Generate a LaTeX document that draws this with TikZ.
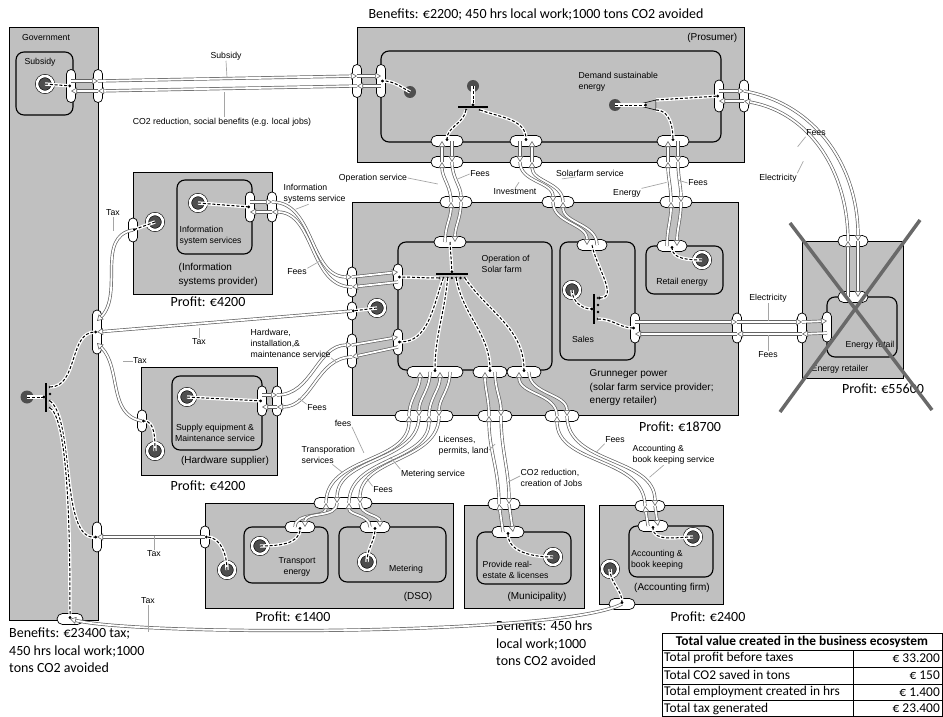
\documentclass[tikz,border=0pt]{standalone}
\usepackage{fontspec}
\setmainfont{Liberation Sans}
\newfontfamily\calfont{Carlito}
\usepackage{tikz}
\usetikzlibrary{arrows.meta,shapes,positioning}
\definecolor{actorgray}{RGB}{192,192,192}
\definecolor{stimgray}{RGB}{78,78,78}
\definecolor{linegray}{RGB}{100,100,100}
\definecolor{leadgray}{RGB}{165,165,165}
\definecolor{crossgray}{RGB}{105,105,105}

\tikzset{
  actorbox/.style={draw, fill=actorgray, line width=0.9pt},
  activity/.style={draw, fill=actorgray, line width=1.1pt, rounded corners=8pt},
  vport/.style={draw, fill=white, line width=0.7pt, rounded corners=4.5pt, inner sep=0pt, minimum width=9pt, minimum height=#1},
  vport/.default=30pt,
  hport/.style={draw, fill=white, line width=0.7pt, rounded corners=5.5pt, inner sep=0pt, minimum height=11pt, minimum width=#1},
  hport/.default=32pt,
  stim/.style={circle, fill=stimgray, inner sep=0pt, minimum size=13pt},
  ringstim/.style={stim, minimum size=16pt, draw=black, line width=0.6pt, double=white, double distance=2.6pt},
  andbar/.style={fill=black, inner sep=0pt, minimum width=#1, minimum height=1.4pt},
  vbar/.style={fill=black, inner sep=0pt, minimum height=#1, minimum width=1.4pt},
  jdot/.style={circle, fill=black, inner sep=0pt, minimum size=2.6pt},
  vx/.style={draw=linegray, line width=0.7pt, double=white, double distance=1.8pt,
    -{Triangle[fill=white, length=6pt, width=7pt, line width=0.6pt]}},
  dep/.style={draw=black, line width=1pt, dash pattern=on 3pt off 1.8pt,
    preaction={draw=white, solid, line width=3.4pt}, -{Circle[length=2.6pt]}},
  lbl/.style={font=\fontsize{8.7}{11}\selectfont, inner sep=0.5pt, align=left},
  albl/.style={font=\fontsize{10}{13.5}\selectfont, inner sep=0.5pt, align=left},
  profit/.style={font=\calfont\fontsize{14}{17.5}\selectfont, inner sep=0pt, align=left},
  tab/.style={font=\calfont\fontsize{13.4}{14}\selectfont, inner sep=0pt},
  leader/.style={draw=leadgray, line width=0.7pt},
}

\begin{document}
\begin{tikzpicture}[x=1pt, y=-1pt]
\useasboundingbox (0,0) rectangle (943,717);

% Actors
\draw[actorbox] (9,27) rectangle (98,620);      % Government
\draw[actorbox] (357,27) rectangle (744,162);   % Prosumer
\draw[actorbox] (133,172) rectangle (272,294);  % Information systems provider
\draw[actorbox] (141,367) rectangle (277,475);  % Hardware supplier
\draw[actorbox] (352,202) rectangle (738,415);  % Grunneger power
\draw[actorbox] (802,241) rectangle (903,378);  % Energy retailer
\draw[actorbox] (205,503) rectangle (453,608);  % DSO
\draw[actorbox] (464,505) rectangle (584,608);  % Municipality
\draw[actorbox] (599,505) rectangle (723,604);  % Accounting firm

% Value activities
\draw[activity] (16,52) rectangle (73,115);
\draw[activity] (381,51) rectangle (721,142);
\draw[activity] (177,180) rectangle (252,254);
\draw[activity] (172,376) rectangle (262,450);
\draw[activity] (398,242) rectangle (552,370);
\draw[activity] (560,242) rectangle (635,360);
\draw[activity] (646,246) rectangle (723,294);
\draw[activity] (827,297) rectangle (897,357);
\draw[activity] (244,527) rectangle (328,583);
\draw[activity] (339,527) rectangle (446,582);
\draw[activity] (477,532) rectangle (571,584);
\draw[activity] (629,526) rectangle (713,577);

% Actor and activity labels
\node[lbl] (govLbl) at (46,38) {Government};
\node[lbl] (subLbl) at (40,62) {Subsidy};
\node[albl, anchor=east] (proLbl) at (738,38) {(Prosumer)};
\node[lbl, anchor=north west] (demLbl) at (578,71) {Demand sustainable\\energy};
\node[albl, anchor=west] (ispLbl) at (178,275) {(Information\\systems provider)};
\node[lbl, anchor=west] (ispaLbl) at (179,236) {Information\\system services};
\node[albl] (hwsLbl) at (225,461) {(Hardware supplier)};
\node[lbl, align=center] (hwsaLbl) at (215,433) {Supply equipment \&\\Maintenance service};
\node[lbl, anchor=west] (opLbl) at (481,264) {Operation of\\Solar farm};
\node[lbl] (saLbl) at (583,339) {Sales};
\node[lbl] (reLbl) at (682,282) {Retail energy};
\node[albl, anchor=west] (gpLbl) at (589,388) {Grunneger power\\(solar farm service provider;\\energy retailer)};
\node[lbl] (erLbl) at (840,369) {Energy retailer};
\node[lbl] (eraLbl) at (870,345) {Energy retail};
\node[lbl, align=center] (trLbl) at (297,567) {Transport\\energy};
\node[lbl] (meLbl) at (406,569) {Metering};
\node[albl] (dsoLbl) at (418,597) {(DSO)};
\node[lbl, anchor=west] (muaLbl) at (482,570) {Provide real-\\estate \& licenses};
\node[albl] (muLbl) at (537,597) {(Municipality)};
\node[lbl, align=center] (afaLbl) at (657,560) {Accounting \&\\book keeping};
\node[albl] (afLbl) at (672,588) {(Accounting firm)};

% Profits and benefits
\node[profit] (topBen) at (536,15) {Benefits: €2200; 450 hrs local work;1000 tons CO2 avoided};
\node[profit] (ispProfit) at (208,302) {Profit: €4200};
\node[profit] (hwsProfit) at (208,486) {Profit: €4200};
\node[profit] (gpProfit) at (680,427) {Profit: €18700};
\node[profit] (erProfit) at (883,389) {Profit: €55600};
\node[profit] (dsoProfit) at (293,617) {Profit: €1400};
\node[profit] (afProfit) at (708,617) {Profit: €2400};
\node[profit, anchor=north west] (govBen) at (9,628) {Benefits: €23400 tax;\\450 hrs local work;1000\\tons CO2 avoided};
\node[profit, anchor=north west] (muBen) at (496,621) {Benefits: 450 hrs\\local work;1000\\tons CO2 avoided};

% Ports
\node[vport=33pt] (govSubIn) at (71,86) {};
\node[vport=33pt] (govSubOut) at (98,86) {};
\node[vport=44pt] (govTaxIn) at (97,332) {};
\node[vport=30pt] (govTaxD) at (97,537) {};
\node[hport=26pt] (govTaxB) at (70,619) {};
\node[vport=33pt] (proLOut) at (357,81) {};
\node[vport=33pt] (proLIn) at (381,81) {};
\node[vport=32pt] (proRIn) at (719,96) {};
\node[vport=32pt] (proROut) at (744,96) {};
\node[hport] (proB1In) at (447,141) {};
\node[hport] (proB2In) at (526,141) {};
\node[hport] (proB3In) at (673,141) {};
\node[hport] (proB1Out) at (447,162) {};
\node[hport] (proB2Out) at (526,162) {};
\node[hport] (proB3Out) at (673,162) {};
\node[vport=30pt] (ispIn) at (250,207) {};
\node[vport=30pt] (ispOut) at (272,207) {};
\node[vport=24pt] (ispTaxP) at (133,230) {};
\node[vport=30pt] (hwsIn) at (262,401) {};
\node[vport=30pt] (hwsOut) at (277,401) {};
\node[vport=22pt] (hwsTaxP) at (142,421) {};
\node[hport] (gTop1) at (456,202) {};
\node[hport] (gTop2) at (558,202) {};
\node[hport] (gTop3) at (676,202) {};
\node[vport=30pt] (gL1) at (352,282) {};
\node[vport=18pt] (gL2) at (352,311) {};
\node[vport=34pt] (gL3) at (352,351) {};
\node[vport=30pt] (gR) at (737,328) {};
\node[hport=58pt] (gB1) at (424,416) {};
\node[hport=34pt] (gB2) at (495,416) {};
\node[hport=34pt] (gB3) at (562,416) {};
\node[hport] (opTop) at (450,242) {};
\node[vport=26pt] (opL1) at (398,277) {};
\node[vport=26pt] (opL2) at (398,342) {};
\node[hport=56pt] (opB1) at (435,372) {};
\node[hport=34pt] (opB2) at (490,372) {};
\node[hport=34pt] (opB3) at (524,372) {};
\node[hport=30pt] (saTop) at (592,245) {};
\node[vport=30pt] (saR) at (635,328) {};
\node[hport=30pt] (reTop) at (672,246) {};
\node[hport=30pt] (erTop) at (853,241) {};
\node[hport=30pt] (erInTop) at (853,297) {};
\node[vport=30pt] (erL) at (802,328) {};
\node[vport=30pt] (erLIn) at (827,327) {};
\node[hport=58pt] (dsoTop) at (343,503) {};
\node[hport=30pt] (trTop) at (300,527) {};
\node[hport=30pt] (meTop) at (375,527) {};
\node[vport=22pt] (dsoTaxP) at (205,537) {};
\node[hport] (muTop) at (504,504) {};
\node[hport] (muaTop) at (508,532) {};
\node[hport=30pt] (afTop) at (650,506) {};
\node[hport=30pt] (afaTop) at (653,526) {};
\node[hport=26pt] (afTaxP) at (622,604) {};

% Stimuli and junctions
\node[ringstim] (govSub) at (45,84) {};
\node[stim] (govStart) at (27,397) {};
\node[vbar=29pt] (govAnd) at (46,397) {};
\foreach \yy [count=\i from 0] in {387,394,401,408}
  \node[jdot] (govD\i) at (50,\yy) {};
\node[stim, minimum size=12pt] (proEnd1) at (410,92) {};
\node[stim, minimum size=12pt] (proStart2) at (473,86) {};
\node[andbar=30pt] (proAnd) at (473,107) {};
\node[jdot] (proD1) at (466,110) {};
\node[jdot] (proD2) at (480,110) {};
\node[stim, minimum size=12pt] (proDem) at (615,105) {};
\node[isosceles triangle, shape border rotate=180, isosceles triangle stretches, draw, fill=actorgray,
  line width=0.6pt, inner sep=0pt, minimum width=10pt, minimum height=20pt] (proOr) at (652,105) {};
\node[ringstim] (ispS) at (198,203) {};
\node[ringstim] (ispTaxS) at (155,222) {};
\node[ringstim] (hwsS) at (187,397) {};
\node[ringstim] (hwsTaxS) at (155,451) {};
\node[ringstim] (gTaxS) at (377,308) {};
\node[andbar=32pt] (opAnd) at (452,274) {};
\foreach \i in {0,...,6}
  \node[jdot] (opD\i) at ({439+4.3*\i},278) {};
\node[ringstim] (saS) at (572,290) {};
\node[vbar=30pt] (saAnd) at (594,309) {};
\foreach \yy [count=\i from 0] in {298,305,312,319}
  \node[jdot] (saD\i) at (598,\yy) {};
\node[ringstim] (reS) at (702,260) {};
\node[ringstim] (trS) at (260,546) {};
\node[ringstim] (meS) at (367,562) {};
\node[ringstim] (dsoTaxS) at (227,570) {};
\node[ringstim] (muS) at (553,557) {};
\node[ringstim] (afaS) at (693,537) {};
\node[ringstim] (afTaxS) at (610,569) {};

% Value exchanges: subsidy and CO2 reduction
\draw[vx] ([yshift=5pt]govSubIn.center) -- ([yshift=5pt]govSubOut.center);
\draw[vx] ([yshift=5pt]govSubOut.center) -- ([yshift=5pt]proLOut.center);
\draw[vx] ([yshift=5pt]proLOut.center) -- ([yshift=5pt]proLIn.center);
\draw[vx] ([yshift=-5pt]proLIn.center) -- ([yshift=-5pt]proLOut.center);
\draw[vx] ([yshift=-5pt]proLOut.center) -- ([yshift=-5pt]govSubOut.center);
\draw[vx] ([yshift=-5pt]govSubOut.center) -- ([yshift=-5pt]govSubIn.center);

% Operation service and fees
\draw[vx] ([xshift=-5pt]opTop.center) to[out=90,in=-90] ([xshift=-5pt]gTop1.center);
\draw[vx] ([xshift=-5pt]gTop1.center) to[out=90,in=-90] ([xshift=-5pt]proB1Out.center);
\draw[vx] ([xshift=-5pt]proB1Out.center) -- ([xshift=-5pt]proB1In.center);
\draw[vx] ([xshift=5pt]proB1In.center) -- ([xshift=5pt]proB1Out.center);
\draw[vx] ([xshift=5pt]proB1Out.center) to[out=-90,in=90] ([xshift=5pt]gTop1.center);
\draw[vx] ([xshift=5pt]gTop1.center) to[out=-90,in=90] ([xshift=5pt]opTop.center);

% Investment and solarfarm service
\draw[vx] ([xshift=-6pt]proB2In.center) -- ([xshift=-6pt]proB2Out.center);
\draw[vx] ([xshift=-6pt]proB2Out.center) to[out=-90,in=90] ([xshift=-5pt]gTop2.center);
\draw[vx] ([xshift=-5pt]gTop2.center) to[out=-90,in=90] ([xshift=-5pt]saTop.center);
\draw[vx] ([xshift=5pt]saTop.center) to[out=90,in=-90] ([xshift=5pt]gTop2.center);
\draw[vx] ([xshift=5pt]gTop2.center) to[out=90,in=-90] ([xshift=6pt]proB2Out.center);
\draw[vx] ([xshift=6pt]proB2Out.center) -- ([xshift=6pt]proB2In.center);

% Energy and fees
\draw[vx] ([xshift=-5pt]reTop.center) to[out=90,in=-90] ([xshift=-5pt]gTop3.center);
\draw[vx] ([xshift=-5pt]gTop3.center) to[out=90,in=-90] ([xshift=-5pt]proB3Out.center);
\draw[vx] ([xshift=-5pt]proB3Out.center) -- ([xshift=-5pt]proB3In.center);
\draw[vx] ([xshift=5pt]proB3In.center) -- ([xshift=5pt]proB3Out.center);
\draw[vx] ([xshift=5pt]proB3Out.center) to[out=-90,in=90] ([xshift=5pt]gTop3.center);
\draw[vx] ([xshift=5pt]gTop3.center) to[out=-90,in=90] ([xshift=5pt]reTop.center);

% Fees and electricity with the energy retailer
\draw[vx] ([yshift=5pt]proRIn.center) -- ([yshift=5pt]proROut.center);
\draw[vx] ([yshift=5pt]proROut.center) to[out=-10,in=90] ([xshift=5pt]erTop.center);
\draw[vx] ([xshift=5pt]erTop.center) -- ([xshift=5pt]erInTop.center);
\draw[vx] ([xshift=-5pt]erInTop.center) -- ([xshift=-5pt]erTop.center);
\draw[vx] ([xshift=-5pt]erTop.center) to[out=90,in=-10] ([yshift=-5pt]proROut.center);
\draw[vx] ([yshift=-5pt]proROut.center) -- ([yshift=-5pt]proRIn.center);
\draw[vx] ([yshift=6pt]saR.center) -- ([yshift=6pt]gR.center);
\draw[vx] ([yshift=6pt]gR.center) -- ([yshift=6pt]erL.center);
\draw[vx] ([yshift=6pt]erL.center) -- ([yshift=6pt]erLIn.center);
\draw[vx] ([yshift=-6pt]erLIn.center) -- ([yshift=-6pt]erL.center);
\draw[vx] ([yshift=-6pt]erL.center) -- ([yshift=-6pt]gR.center);
\draw[vx] ([yshift=-6pt]gR.center) -- ([yshift=-6pt]saR.center);

% Information systems service and fees
\draw[vx] ([yshift=5pt]ispIn.center) -- ([yshift=5pt]ispOut.center);
\draw[vx] ([yshift=5pt]ispOut.center) to[out=0,in=180] ([yshift=5pt]gL1.center);
\draw[vx] ([yshift=5pt]gL1.center) -- ([yshift=5pt]opL1.center);
\draw[vx] ([yshift=-5pt]opL1.center) -- ([yshift=-5pt]gL1.center);
\draw[vx] ([yshift=-5pt]gL1.center) to[out=180,in=0] ([yshift=-5pt]ispOut.center);
\draw[vx] ([yshift=-5pt]ispOut.center) -- ([yshift=-5pt]ispIn.center);

% Hardware service and fees
\draw[vx] ([yshift=6pt]hwsIn.center) -- ([yshift=6pt]hwsOut.center);
\draw[vx] ([yshift=6pt]hwsOut.center) to[out=0,in=180] ([yshift=6pt]gL3.center);
\draw[vx] ([yshift=6pt]gL3.center) -- ([yshift=5pt]opL2.center);
\draw[vx] ([yshift=-5pt]opL2.center) -- ([yshift=-6pt]gL3.center);
\draw[vx] ([yshift=-6pt]gL3.center) to[out=180,in=0] ([yshift=-6pt]hwsOut.center);
\draw[vx] ([yshift=-6pt]hwsOut.center) -- ([yshift=-6pt]hwsIn.center);

% DSO services and fees
\draw[vx] ([xshift=-5pt]trTop.center) to[out=90,in=-90] ([xshift=-17pt]dsoTop.center);
\draw[vx] ([xshift=-17pt]dsoTop.center) to[out=90,in=-90] ([xshift=-15pt]gB1.center);
\draw[vx] ([xshift=-15pt]gB1.center) to[out=90,in=-90] ([xshift=-15pt]opB1.center);
\draw[vx] ([xshift=-5pt]opB1.center) to[out=-90,in=90] ([xshift=-5pt]gB1.center);
\draw[vx] ([xshift=-5pt]gB1.center) to[out=-90,in=90] ([xshift=-6pt]dsoTop.center);
\draw[vx] ([xshift=-6pt]dsoTop.center) to[out=-90,in=90] ([xshift=5pt]trTop.center);
\draw[vx] ([xshift=-5pt]meTop.center) to[out=90,in=-90] ([xshift=6pt]dsoTop.center);
\draw[vx] ([xshift=6pt]dsoTop.center) to[out=90,in=-90] ([xshift=5pt]gB1.center);
\draw[vx] ([xshift=5pt]gB1.center) to[out=90,in=-90] ([xshift=5pt]opB1.center);
\draw[vx] ([xshift=15pt]opB1.center) to[out=-90,in=90] ([xshift=15pt]gB1.center);
\draw[vx] ([xshift=15pt]gB1.center) to[out=-90,in=90] ([xshift=17pt]dsoTop.center);
\draw[vx] ([xshift=17pt]dsoTop.center) to[out=-90,in=90] ([xshift=5pt]meTop.center);

% Licenses and CO2 reduction
\draw[vx] ([xshift=-5pt]muaTop.center) -- ([xshift=-5pt]muTop.center);
\draw[vx] ([xshift=-5pt]muTop.center) to[out=90,in=-90] ([xshift=-6pt]gB2.center);
\draw[vx] ([xshift=-6pt]gB2.center) to[out=90,in=-90] ([xshift=-5pt]opB2.center);
\draw[vx] ([xshift=5pt]opB2.center) to[out=-90,in=90] ([xshift=6pt]gB2.center);
\draw[vx] ([xshift=6pt]gB2.center) to[out=-90,in=90] ([xshift=5pt]muTop.center);
\draw[vx] ([xshift=5pt]muTop.center) -- ([xshift=5pt]muaTop.center);

% Accounting service and fees
\draw[vx] ([xshift=-5pt]afaTop.center) -- ([xshift=-5pt]afTop.center);
\draw[vx] ([xshift=-5pt]afTop.center) to[out=90,in=-90] ([xshift=-5pt]gB3.center);
\draw[vx] ([xshift=-5pt]gB3.center) to[out=90,in=-90] ([xshift=-5pt]opB3.center);
\draw[vx] ([xshift=5pt]opB3.center) to[out=-90,in=90] ([xshift=5pt]gB3.center);
\draw[vx] ([xshift=5pt]gB3.center) to[out=-90,in=90] ([xshift=5pt]afTop.center);
\draw[vx] ([xshift=5pt]afTop.center) -- ([xshift=5pt]afaTop.center);

% Taxes
\draw[vx] (ispTaxP.center) to[out=190,in=45] ([yshift=11pt]govTaxIn.center);
\draw[vx] (gL2.center) -- (govTaxIn.center);
\draw[vx] (hwsTaxP.center) to[out=170,in=-45] ([yshift=-11pt]govTaxIn.center);
\draw[vx] (dsoTaxP.center) -- (govTaxD.center);
\draw[vx] (afTaxP.center) .. controls (560,636) and (140,636) .. (govTaxB.center);

% Dependency paths
\draw[dep] (govSub.center) -- (govSubIn.center);
\draw[dep] (govStart.center) -- (govAnd.west);
\draw[dep] (govD0.center) to[out=0,in=180] (govTaxIn.center);
\draw[dep] (govD2.center) .. controls (75,420) and (60,540) .. (govTaxD.center);
\draw[dep] (govD3.center) .. controls (70,420) and (70,560) .. (govTaxB.center);
\draw[dep] (proEnd1.center) to[out=150,in=0] (proLIn.center);
\draw[dep] (proStart2.center) -- (proAnd.north);
\draw[dep] (proD1.center) to[out=-100,in=90] (proB1In.center);
\draw[dep] (proD2.center) to[out=-20,in=90] (proB2In.center);
\draw[dep] (proDem.center) -- ([xshift=-5pt]proOr.center);
\draw[dep] ([xshift=4pt,yshift=5pt]proOr.center) -- (proRIn.center);
\draw[dep] ([xshift=4pt,yshift=-5pt]proOr.center) to[out=0,in=90] (proB3In.center);
\draw[dep] (ispS.center) -- (ispIn.center);
\draw[dep] (ispTaxS.center) -- (ispTaxP.center);
\draw[dep] (hwsS.center) -- (hwsIn.center);
\draw[dep] (hwsTaxS.center) to[out=90,in=0] (hwsTaxP.center);
\draw[dep] (gTaxS.center) -- (gL2.center);
\draw[dep] (opTop.center) -- (opAnd.north);
\draw[dep] (opD0.center) to[out=180,in=0] (opL1.center);
\draw[dep] (opD1.center) to[out=-110,in=0] (opL2.center);
\draw[dep] (opD2.center) to[out=-95,in=90] (opB1.center);
\draw[dep] (opD4.center) to[out=-80,in=90] (opB2.center);
\draw[dep] (opD6.center) to[out=-55,in=90] (opB3.center);
\draw[dep] (saTop.center) to[out=-80,in=0] (saD0.center);
\draw[dep] (saS.center) to[out=-90,in=180] (saAnd.west);
\draw[dep] (saD3.center) to[out=0,in=180] (saR.center);
\draw[dep] (reS.center) to[out=180,in=-90] (reTop.center);
\draw[dep] (trS.center) to[out=0,in=-90] (trTop.center);
\draw[dep] (meS.center) to[out=90,in=-90] (meTop.center);
\draw[dep] (dsoTaxS.center) to[out=90,in=0] (dsoTaxP.center);
\draw[dep] (muS.center) to[out=180,in=-90] (muaTop.center);
\draw[dep] (afaS.center) to[out=180,in=-90] (afaTop.center);
\draw[dep] (afTaxS.center) to[out=-90,in=90] (afTaxP.center);

% Exchange labels
\node[lbl] (exSub) at (226,56) {Subsidy};
\draw[leader] (exSub.south) -- ++(1,17);
\node[lbl] (exCO2) at (222,122) {CO2 reduction, social benefits (e.g. local jobs)};
\draw[leader] ([xshift=2pt]exCO2.north) -- ++(0,-25);
\node[lbl] (exOp) at (373,178) {Operation service};
\draw[leader] (exOp.east) -- ++(30,6);
\node[lbl] (exFees1) at (480,174) {Fees};
\draw[leader] (exFees1.west) -- ++(-12,5);
\node[lbl] (exInv) at (515,192) {Investment};
\draw[leader] (exInv.north) -- ++(4,-6);
\node[lbl] (exSolar) at (590,173) {Solarfarm service};
\draw[leader] ([xshift=-14pt]exSolar.south) -- ++(-14,2);
\node[lbl] (exEnergy) at (627,193) {Energy};
\draw[leader] (exEnergy.north east) -- ++(25,-6);
\node[lbl] (exFees2) at (698,183) {Fees};
\draw[leader] (exFees2.west) -- ++(-10,-3);
\node[lbl] (exFees3) at (816,133) {Fees};
\draw[leader] (exFees3.south west) -- ++(-8,10);
\node[lbl] (exElec1) at (778,178) {Electricity};
\draw[leader] (exElec1.north east) -- ++(6,-12);
\node[lbl, anchor=west] (exIsS) at (283,194) {Information\\systems service};
\draw[leader] ([xshift=-6pt]exIsS.south) -- ++(-13,5);
\node[lbl] (exFees4) at (297,272) {Fees};
\draw[leader] (exFees4.north east) -- ++(14,-8);
\node[lbl] (exTax1) at (113,213) {Tax};
\draw[leader] (exTax1.south) -- ++(0,14);
\node[lbl] (exTax2) at (199,342) {Tax};
\draw[leader] (exTax2.north) -- ++(0,-10);
\node[lbl] (exTax3) at (140,361) {Tax};
\draw[leader] (exTax3.west) -- ++(-10,0);
\node[lbl, anchor=west] (exHw) at (250,343) {Hardware,\\installation,\&\\maintenance service};
\draw[leader] (exHw.south east) -- ++(6,5);
\node[lbl] (exFees5) at (317,408) {Fees};
\draw[leader] (exFees5.north west) -- ++(-8,-6);
\node[lbl] (exElec2) at (768,298) {Electricity};
\draw[leader] (exElec2.south) -- ++(0,18);
\node[lbl] (exFees6) at (768,355) {Fees};
\draw[leader] (exFees6.north) -- ++(0,-16);
\node[lbl] (exFees7) at (343,423) {fees};
\draw[leader] (exFees7.south east) -- ++(12,26);
\node[lbl, anchor=west] (exTr) at (301,455) {Transporation\\services};
\draw[leader] ([xshift=4pt]exTr.south) -- ++(10,8);
\node[lbl] (exMet) at (433,474) {Metering service};
\draw[leader] (exMet.north west) -- ++(-10,-12);
\node[lbl] (exFees8) at (383,490) {Fees};
\draw[leader] (exFees8.north west) -- ++(-6,-8);
\node[lbl, anchor=west] (exLic) at (438,446) {Licenses,\\permits, land};
\draw[leader] ([yshift=-4pt]exLic.east) -- ++(6,-6);
\node[lbl, anchor=west] (exCO2b) at (520,478) {CO2 reduction,\\creation of Jobs};
\draw[leader] ([yshift=2pt]exCO2b.west) -- ++(-12,6);
\node[lbl] (exFees9) at (615,440) {Fees};
\draw[leader] (exFees9.south west) -- ++(-8,8);
\node[lbl, anchor=west] (exAcc) at (632,455) {Accounting \&\\book keeping service};
\draw[leader] ([xshift=-10pt]exAcc.south) -- ++(-14,12);
\node[lbl] (exTax4) at (154,554) {Tax};
\draw[leader] (exTax4.north) -- ++(0,-14);
\node[lbl] (exTax5) at (148,601) {Tax};
\draw[leader] (exTax5.south) -- ++(0,27);

% Crossed out actor
\draw[crossgray, line width=3.5pt] (790,223) -- (932,410);
\draw[crossgray, line width=3.5pt] (920,220) -- (780,412);

% Table
\draw[line width=0.6pt] (662,633) rectangle (942,716.5);
\foreach \yy in {650,667,684,700}
  \draw[line width=0.6pt] (662,\yy) -- (942,\yy);
\draw[line width=0.6pt] (853,650) -- (853,716.5);
\node[tab, font=\calfont\bfseries\fontsize{13.4}{14}\selectfont] (tabHead) at (802,641.5) {Total value created in the business ecosystem};
\foreach \lab/\val [count=\r] in {Total profit before taxes/€ 33.200, Total CO2 saved in tons/€ 150,
    Total employment created in hrs/€ 1.400, Total tax generated/€ 23.400}{
  \node[tab, anchor=west] (tabL\r) at (664,{641.5+16.75*\r}) {\lab};
  \node[tab, anchor=east] (tabV\r) at (940,{641.5+16.75*\r}) {\val};
}
\end{tikzpicture}
\end{document}
